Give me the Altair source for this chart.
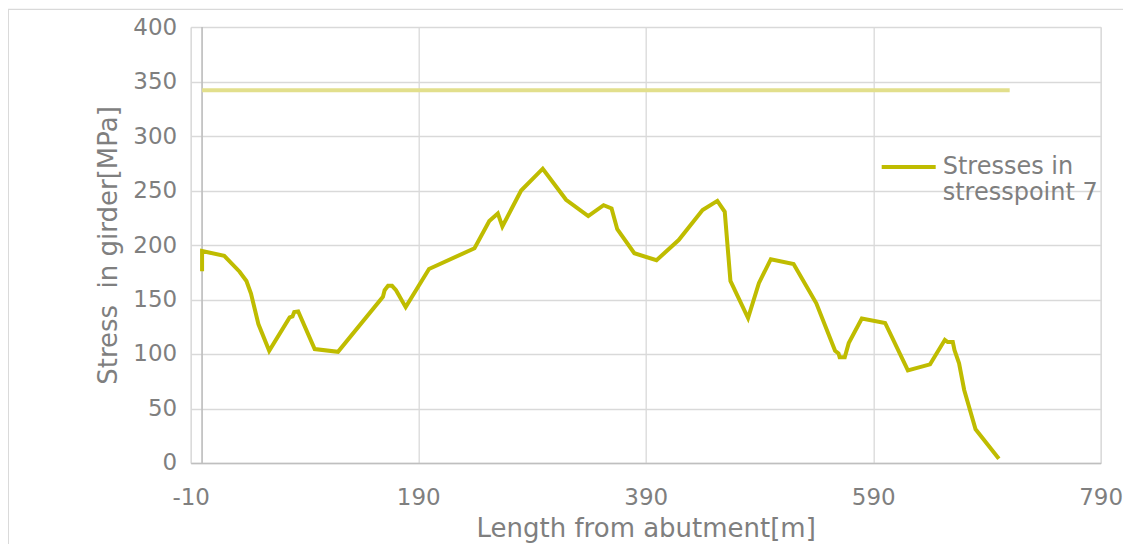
import altair as alt
import pandas as pd

# Stress series (Length from abutment [m], Stress [MPa])
length_m = [0, 0, 19.5, 33, 39, 43, 49.5, 59, 77, 79.5,
            81, 84.5, 99, 119.5, 159, 160.5, 163.5, 167, 170.5, 179,
            199.5, 239.5, 252.5, 260, 264, 280.5, 299.5, 320, 339.5, 353,
            360, 365, 380, 399.5, 419, 440, 453, 459.5, 464.5, 480,
            489.5, 500, 520, 540, 556.5, 559.5, 560.5, 565, 568.5, 580,
            600.5, 620.5, 640, 653, 655.5, 660, 661.5, 665.5, 670, 680,
            700.5]
stress_mpa = [176, 194.5, 190, 175.5, 167, 155.5, 127.5, 103, 133.5, 134.5,
              138.5, 139, 104.5, 102, 152.5, 158.5, 162.5, 162.5, 158.5, 143,
              178, 197, 222, 229, 217, 250, 270, 241.5, 226.5, 236.5,
              233.5, 214.5, 192.5, 186, 204.5, 232, 240.5, 230.5, 167, 133,
              165, 187, 182.5, 146.5, 103, 100.5, 97, 97, 110, 132.5,
              128.5, 85, 90.5, 113, 111, 111, 103.5, 91.5, 67, 31,
              4]
series_name = "Stresses in stresspoint 7"

# Limit line
limit_x = [0, 710]
limit_y = [342, 342]

x_ticks = [-10, 190, 390, 590, 790]
y_ticks = [0, 50, 100, 150, 200, 250, 300, 350, 400]

FONT = "DejaVu Sans"
TXT = "#7F7F7F"
GRID = "#D9D9D9"
AXIS = "#BFBFBF"

W, H = 910, 436

df = pd.DataFrame({"x": length_m, "y": stress_mpa,
                   "order": list(range(len(length_m))),
                   "series": [series_name] * len(length_m)})
df_limit = pd.DataFrame({"x": limit_x, "y": limit_y})
df_zero = pd.DataFrame({"x": [0], "y0": [0], "y1": [400]})

xscale = alt.Scale(domain=[-10, 790], nice=False, zero=False)
yscale = alt.Scale(domain=[0, 400], nice=False)

x_axis = alt.Axis(values=x_ticks, title="Length from abutment[m]", grid=True,
                  gridColor=GRID, gridWidth=1.3, domain=True, domainColor=AXIS,
                  domainWidth=1.7, ticks=False, tickSize=0, labelFontSize=23,
                  labelColor=TXT, labelFont=FONT, labelBaseline="alphabetic",
                  labelPadding=42, labelExpr="'' + datum.value",
                  titleFont=FONT, titleFontSize=26,
                  titleColor=TXT, titleFontWeight="normal", titleBaseline="alphabetic",
                  titleX=W / 2, titleY=74, titleAlign="center", labelFlush=False)
y_axis = alt.Axis(values=y_ticks, title="Stress \u00a0in girder[MPa]", grid=True,
                  gridColor=GRID, gridWidth=1.3, domain=False, ticks=False,
                  tickSize=0, labelFontSize=23, labelColor=TXT, labelFont=FONT,
                  labelPadding=14, labelBaseline="middle", titleFont=FONT,
                  titleFontSize=26, titleColor=TXT, titleFontWeight="normal",
                  titleAngle=270, titleAlign="center", titleBaseline="alphabetic",
                  titleX=-74, titleY=H / 2)

base = alt.Chart(df)

zero_rule = alt.Chart(df_zero).mark_rule(color=AXIS, strokeWidth=1.7).encode(
    x=alt.X("x:Q", scale=xscale, axis=x_axis),
    y=alt.Y("y0:Q", scale=yscale, axis=y_axis),
    y2="y1:Q",
)

limit = alt.Chart(df_limit).mark_line(color="#E2DF8C", strokeWidth=4).encode(
    x=alt.X("x:Q", scale=xscale),
    y=alt.Y("y:Q", scale=yscale),
)

line = base.mark_line(strokeWidth=4, strokeJoin="miter").encode(
    x=alt.X("x:Q", scale=xscale),
    y=alt.Y("y:Q", scale=yscale),
    order="order:Q",
    color=alt.Color("series:N",
                    scale=alt.Scale(domain=[series_name], range=["#BFBC00"]),
                    legend=alt.Legend(title=None, orient="none", legendX=689,
                                      legendY=111, padding=0,
                                      symbolType="stroke", symbolSize=2916,
                                      symbolStrokeWidth=4, labelFontSize=24,
                                      labelFont=FONT, labelColor=TXT,
                                      labelOffset=5, labelLimit=400,
                                      labelExpr="datum.label == 'Stresses in stresspoint 7' ? ['Stresses in', 'stresspoint 7'] : datum.label")),
)

frame = alt.Chart(df_zero).mark_rect(fill=None, stroke=GRID, strokeWidth=1.3).encode(
    x=alt.value(-182.4), x2=alt.value(1200), y=alt.value(-17.7), y2=alt.value(600)
)

chart = alt.layer(frame, zero_rule, limit, line).properties(
    width=W, height=H,
    autosize=alt.AutoSizeParams(type="none"),
    padding={"left": 182.7, "top": 19, "right": 22, "bottom": 81},
).configure_view(stroke=None).configure(font=FONT)

chart.save("out.html", embed_options={"renderer": "svg", "actions": False})
